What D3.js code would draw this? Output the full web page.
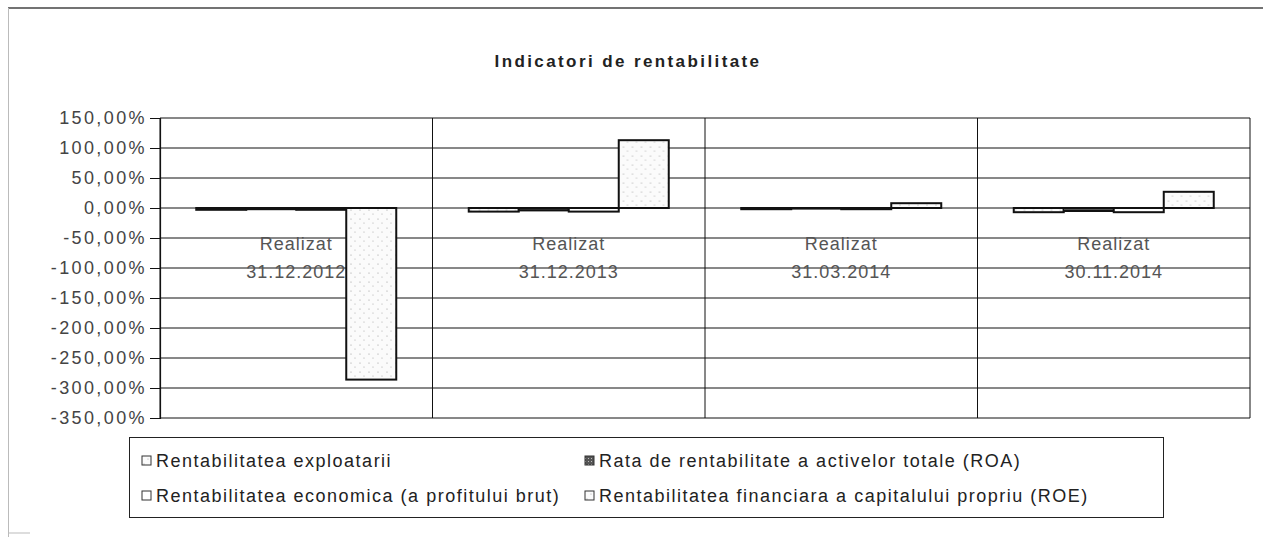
<!DOCTYPE html>
<html>
<head>
<meta charset="utf-8">
<script src="https://cdn.jsdelivr.net/npm/d3@7"></script>
<style>
  body { margin: 0; background: #fff; }
  svg { display: block; font-family: "Liberation Sans", Arial, sans-serif; }
</style>
</head>
<body>
<svg id="chart" width="1263" height="537"></svg>
<script>
const width = 1263;
const height = 537;

// data
const categories = ["Realizat 31.12.2012", "Realizat 31.12.2013", "Realizat 31.03.2014", "Realizat 30.11.2014"];
const seriesNames = [
  "Rentabilitatea exploatarii",
  "Rata de rentabilitate a activelor totale (ROA)",
  "Rentabilitatea economica (a profitului brut)",
  "Rentabilitatea financiara a capitalului propriu (ROE)"
];
const exploatarii = [-3, -6, -2, -7];
const roa = [-2, -4, -1, -5];
const economica = [-3, -6, -2, -7];
const roe = [-286, 113, 8, 27];
const yTicks = [150, 100, 50, 0, -50, -100, -150, -200, -250, -300, -350];

const seriesValues = [exploatarii, roa, economica, roe];
const rows = categories.map((c, i) => ({
  cat: c,
  vals: seriesNames.map((s, j) => ({ series: s, value: seriesValues[j][i] }))
}));

const plot = { left: 160, right: 1250, top: 118, bottom: 418 };

const svg = d3.select("#chart");

// patterns
const defs = svg.append("defs");
const sparse = defs.append("pattern")
  .attr("id", "sparse").attr("width", 9).attr("height", 9)
  .attr("patternUnits", "userSpaceOnUse");
sparse.append("rect").attr("width", 9).attr("height", 9).attr("fill", "#fbfbfb");
sparse.append("circle").attr("cx", 2).attr("cy", 3).attr("r", 0.6).attr("fill", "#999");
sparse.append("circle").attr("cx", 6).attr("cy", 7).attr("r", 0.6).attr("fill", "#aaa");

const dark = defs.append("pattern")
  .attr("id", "dark").attr("width", 3).attr("height", 3)
  .attr("patternUnits", "userSpaceOnUse");
dark.append("rect").attr("width", 3).attr("height", 3).attr("fill", "#555");
dark.append("rect").attr("width", 1).attr("height", 1).attr("fill", "#bbb");

const fills = ["url(#sparse)", "url(#dark)", "#fff", "url(#sparse)"];
const color = d3.scaleOrdinal().domain(seriesNames).range(fills);

// outer frame
svg.append("line").attr("x1", 8).attr("x2", width).attr("y1", 8).attr("y2", 8)
  .attr("stroke", "#444").attr("stroke-width", 1.5);
svg.append("line").attr("x1", 8.5).attr("x2", 8.5).attr("y1", 8).attr("y2", height)
  .attr("stroke", "#bbb").attr("stroke-width", 1);
svg.append("line").attr("x1", 8).attr("x2", 30).attr("y1", 533).attr("y2", 533)
  .attr("stroke", "#bbb").attr("stroke-width", 1);

// title
svg.append("text")
  .attr("x", 628).attr("y", 67)
  .attr("text-anchor", "middle")
  .attr("font-size", 17)
  .attr("font-weight", 600)
  .attr("letter-spacing", 2.4)
  .attr("fill", "#222")
  .text("Indicatori de rentabilitate");

const y = d3.scaleLinear().domain([-350, 150]).range([plot.bottom, plot.top]);
const x0 = d3.scaleBand().domain(categories).range([plot.left, plot.right]);
const x1 = d3.scaleBand().domain(seriesNames).range([0, x0.bandwidth()])
  .paddingInner(0).paddingOuter(0.725);

// horizontal gridlines
svg.append("g")
  .selectAll("line")
  .data(yTicks)
  .join("line")
    .attr("x1", plot.left).attr("x2", plot.right)
    .attr("y1", d => y(d)).attr("y2", d => y(d))
    .attr("stroke", "#111").attr("stroke-width", 1);

// vertical category separators
const seps = categories.map(c => x0(c)).concat([plot.right]);
svg.append("g")
  .selectAll("line")
  .data(seps)
  .join("line")
    .attr("x1", d => d).attr("x2", d => d)
    .attr("y1", plot.top).attr("y2", plot.bottom)
    .attr("stroke", "#111").attr("stroke-width", 1);

// y axis
const fmt = d3.formatLocale({ decimal: ",", thousands: ".", grouping: [3], currency: ["", ""], minus: "-" }).format(".2f");
const yAxis = svg.append("g")
  .attr("transform", `translate(${plot.left},0)`)
  .call(d3.axisLeft(y).tickValues(yTicks).tickSize(10).tickPadding(3).tickFormat(d => fmt(d) + "%"));
yAxis.select(".domain").attr("stroke", "#111").attr("stroke-width", 1.2);
yAxis.selectAll(".tick line").attr("stroke", "#111");
yAxis.selectAll(".tick text")
  .attr("font-size", 18)
  .attr("letter-spacing", 2.4)
  .attr("fill", "#444")
  .attr("font-family", "Liberation Sans, Arial, sans-serif");

// category labels (inside plot)
const catLabels = svg.append("g")
  .selectAll("text")
  .data(categories)
  .join("text")
    .attr("text-anchor", "middle")
    .attr("font-size", 18)
    .attr("letter-spacing", 1)
    .attr("fill", "#555")
    .attr("transform", d => `translate(${x0(d) + x0.bandwidth() / 2},0)`);
catLabels.append("tspan").attr("x", 0).attr("y", 250).text(d => d.split(" ")[0]);
catLabels.append("tspan").attr("x", 0).attr("y", 278).text(d => d.split(" ")[1]);

// bars
svg.append("g")
  .selectAll("g")
  .data(rows)
  .join("g")
    .attr("transform", d => `translate(${x0(d.cat)},0)`)
  .selectAll("rect")
  .data(d => d.vals)
  .join("rect")
    .attr("x", d => x1(d.series))
    .attr("width", x1.bandwidth())
    .attr("y", d => y(Math.max(0, d.value)))
    .attr("height", d => Math.abs(y(d.value) - y(0)))
    .attr("fill", d => color(d.series))
    .attr("stroke", "#111")
    .attr("stroke-width", 2);

// legend
const legend = svg.append("g");
legend.append("rect")
  .attr("x", 129.5).attr("y", 437.5).attr("width", 1034).attr("height", 80)
  .attr("fill", "#fff").attr("stroke", "#222").attr("stroke-width", 1);

const legendPos = [[142, 461], [585, 461], [142, 496], [585, 496]];
const item = legend.selectAll("g.item")
  .data(seriesNames)
  .join("g")
    .attr("class", "item")
    .attr("transform", (d, i) => `translate(${legendPos[i][0]},${legendPos[i][1]})`);
item.append("rect")
  .attr("x", 0).attr("y", -5).attr("width", 9).attr("height", 9)
  .attr("fill", d => color(d)).attr("stroke", "#333").attr("stroke-width", 1);
item.append("text")
  .attr("x", 14).attr("y", 6)
  .attr("font-size", 18)
  .attr("letter-spacing", 1.5)
  .attr("fill", "#222")
  .text(d => d);
</script>
</body>
</html>
